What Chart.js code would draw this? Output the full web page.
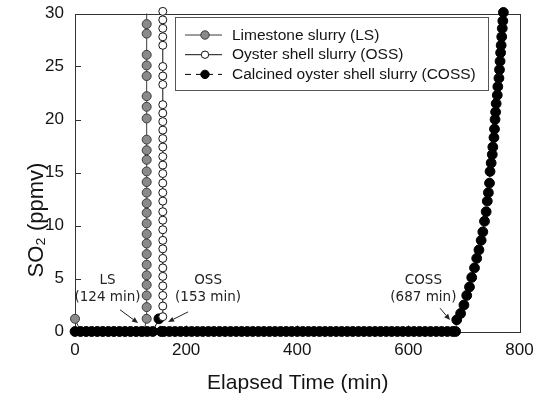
<!DOCTYPE html>
<html>
<head>
<meta charset="utf-8">
<script src="https://cdn.jsdelivr.net/npm/chart.js@4.4.1/dist/chart.umd.min.js"></script>
<style>
  html, body { margin: 0; padding: 0; background: #ffffff; }
  #wrap { width: 536px; height: 397px; }
</style>
</head>
<body>
<div id="wrap"><canvas id="c" width="536" height="397"></canvas></div>
<script>
// ---------------- data ----------------
const seriesNames = ['Limestone slurry (LS)', 'Oyster shell slurry (OSS)', 'Calcined oyster shell slurry (COSS)'];

// Limestone slurry (LS)
const lsTime = [0, 10, 20, 30, 40, 50, 60, 70, 80, 90, 100, 110, 120, 124,
  129, 129, 129, 129, 129, 129, 129, 129, 129, 129, 129, 129, 129,
  129, 129, 129, 129, 129, 129, 129, 129, 129, 129, 129, 129, 129];
const lsSO2 = [1.2, 0, 0, 0, 0, 0, 0, 0, 0, 0, 0, 0, 0, 0,
  1.2, 2.3, 3.4, 4.4, 5.3, 6.3, 7.3, 8.3, 9.2, 10.2, 11.2, 12.1, 13.1,
  14.1, 15.1, 16.2, 17.1, 18.1, 20.1, 21.2, 22.2, 24.1, 25.1, 26.1, 28.1, 29.0];

// Oyster shell slurry (OSS)
const ossTime = [158, 158, 158, 158, 158, 158, 158, 158, 158, 158, 158,
  158, 158, 158, 158, 158, 158, 158, 158, 158, 158, 158, 158, 158,
  158, 158, 158, 158, 158, 158, 158, 158];
const ossSO2 = [1.4, 2.4, 3.4, 4.3, 5.2, 6.0, 6.9, 7.8, 8.6, 9.6, 10.5,
  11.3, 12.3, 13.1, 14.0, 14.9, 15.7, 16.5, 17.4, 18.2, 19.0, 19.8, 20.6, 21.4,
  23.3, 24.1, 25.0, 27.0, 27.8, 28.6, 29.4, 30.2];

// Calcined oyster shell slurry (COSS)
const cossTime = [0, 10, 20, 30, 40, 50, 60, 70, 80, 90, 100, 110, 120, 130, 140, 151, 155,
  160, 170, 180, 190, 200, 210, 220, 230, 240, 250, 260, 270, 280, 290, 300,
  310, 320, 330, 340, 350, 360, 370, 380, 390, 400, 410, 420, 430, 440, 450,
  460, 470, 480, 490, 500, 510, 520, 530, 540, 550, 560, 570, 580, 590, 600,
  610, 620, 630, 640, 650, 660, 670, 680, 685,
  687, 694, 700, 705, 710, 714, 719, 723, 727, 731, 734, 737, 740, 742, 744,
  746, 747, 749, 751, 752, 754, 755, 756, 757, 758, 760, 761, 763, 764, 765,
  766, 767, 768, 769, 770, 771];
const cossSO2 = [0, 0, 0, 0, 0, 0, 0, 0, 0, 0, 0, 0, 0, 0, 0, 1.2, 0,
  0, 0, 0, 0, 0, 0, 0, 0, 0, 0, 0, 0, 0, 0, 0,
  0, 0, 0, 0, 0, 0, 0, 0, 0, 0, 0, 0, 0, 0, 0,
  0, 0, 0, 0, 0, 0, 0, 0, 0, 0, 0, 0, 0, 0, 0,
  0, 0, 0, 0, 0, 0, 0, 0, 0,
  1.1, 1.7, 2.5, 3.4, 4.2, 5.1, 6.0, 6.9, 7.7, 8.6, 9.4, 10.4, 11.3, 12.3, 13.1,
  14.0, 15.1, 15.9, 16.7, 17.4, 18.3, 19.1, 20.0, 20.7, 21.5, 22.3, 23.1, 23.9, 24.7, 25.5,
  26.3, 27.0, 27.8, 28.6, 29.3, 30.1];

// axis ticks
const xTickValues = [0, 200, 400, 600, 800];
const yTickValues = [0, 5, 10, 15, 20, 25, 30];

// breakthrough annotations: label lines
const annoLabels = [['LS', '(124 min)'], ['OSS', '(153 min)'], ['COSS', '(687 min)']];

const xTitle = 'Elapsed Time (min)';
const yTitle = 'SO\u2082 (ppmv)';

// ---------------- layout / style (not data) ----------------
// annotation placement in data units: text centre x, line-1 y, line-2 y, arrow tail (x,y), arrow tip (x,y)
const annoPlace = [
  { tx: 58.5, ty1: 4.8, ty2: 3.2, ax1: 81, ay1: 2.05, ax2: 113.5, ay2: 0.8 },
  { tx: 239.5, ty1: 4.8, ty2: 3.2, ax1: 203.5, ay1: 1.85, ax2: 167.5, ay2: 0.9 },
  { tx: 627, ty1: 4.8, ty2: 3.2, ax1: 657, ay1: 2.2, ax2: 675, ay2: 1.08 }
];

const toPts = (xs, ys) => xs.map((x, i) => ({ x: x, y: ys[i] }));

const styles = [
  { fill: '#8a8a8a', stroke: '#3a3a3a', line: '#3a3a3a', r: 4.5, dash: [] },
  { fill: '#ffffff', stroke: '#111111', line: '#111111', r: 4.0, dash: [] },
  { fill: '#000000', stroke: '#000000', line: '#000000', r: 4.9, dash: [6, 3] }
];

const datasets = [
  { label: seriesNames[0], data: toPts(lsTime, lsSO2), order: 3 },
  { label: seriesNames[1], data: toPts(ossTime, ossSO2), order: 1 },
  { label: seriesNames[2], data: toPts(cossTime, cossSO2), order: 2 }
].map((d, i) => Object.assign(d, {
  showLine: true,
  borderColor: styles[i].line,
  borderWidth: 1,
  borderDash: styles[i].dash,
  backgroundColor: styles[i].fill,
  pointBackgroundColor: styles[i].fill,
  pointBorderColor: styles[i].stroke,
  pointBorderWidth: 1,
  pointRadius: styles[i].r,
  pointHoverRadius: styles[i].r,
  tension: 0,
  clip: false
}));

// LS continues above the top of the frame: its line runs to the frame edge
datasets[0].data.push({ x: 129, y: 30 });
datasets[0].pointRadius = ctx => (ctx.raw && ctx.raw.y >= 30 ? 0 : styles[0].r);

const FONT = '"Liberation Sans", Arial, sans-serif';
const TXT = '#141414';

const drawPlugin = {
  id: 'drawPlugin',
  beforeDatasetsDraw(chart) {
    const { ctx, chartArea: a, scales } = chart;
    ctx.save();
    ctx.strokeStyle = '#333333';
    ctx.lineWidth = 1;
    ctx.strokeRect(Math.round(a.left) + 0.5, Math.round(a.top) + 0.5,
      Math.round(a.right - a.left), Math.round(a.bottom - a.top));
    ctx.beginPath();
    yTickValues.forEach(v => {
      const py = Math.round(scales.y.getPixelForValue(v)) + 0.5;
      ctx.moveTo(a.left, py); ctx.lineTo(a.left + 6, py);
    });
    xTickValues.forEach(v => {
      const px = Math.round(scales.x.getPixelForValue(v)) + 0.5;
      ctx.moveTo(px, a.bottom); ctx.lineTo(px, a.bottom - 6);
    });
    ctx.stroke();
    ctx.restore();
  },
  afterDatasetsDraw(chart) {
    const { ctx, chartArea: a, scales } = chart;
    const X = v => scales.x.getPixelForValue(v);
    const Y = v => scales.y.getPixelForValue(v);
    ctx.save();

    // breakthrough annotations
    ctx.font = '13.5px "DejaVu Sans", sans-serif';
    ctx.fillStyle = '#262626';
    ctx.textAlign = 'center';
    ctx.textBaseline = 'middle';
    annoLabels.forEach((lines, i) => {
      const p = annoPlace[i];
      ctx.fillText(lines[0], X(p.tx), Y(p.ty1));
      ctx.fillText(lines[1], X(p.tx), Y(p.ty2));
      const x1 = X(p.ax1), y1 = Y(p.ay1), x2 = X(p.ax2), y2 = Y(p.ay2);
      const ang = Math.atan2(y2 - y1, x2 - x1);
      const hl = 6, hw = 2.6;
      const bx = x2 - hl * Math.cos(ang), by = y2 - hl * Math.sin(ang);
      ctx.strokeStyle = '#222222';
      ctx.lineWidth = 1;
      ctx.beginPath(); ctx.moveTo(x1, y1); ctx.lineTo(bx, by); ctx.stroke();
      ctx.beginPath();
      ctx.moveTo(x2, y2);
      ctx.lineTo(bx + hw * Math.sin(ang), by - hw * Math.cos(ang));
      ctx.lineTo(bx - hw * Math.sin(ang), by + hw * Math.cos(ang));
      ctx.closePath();
      ctx.fillStyle = '#222222';
      ctx.fill();
    });

    // legend box
    const lx = a.left + 100, ly = a.top + 3, lw = 313, lh = 73;
    ctx.fillStyle = '#ffffff';
    ctx.fillRect(lx, ly, lw, lh);
    ctx.strokeStyle = '#555555';
    ctx.lineWidth = 1;
    ctx.strokeRect(Math.round(lx) + 0.5, Math.round(ly) + 0.5, lw, lh);
    ctx.font = '15.5px ' + FONT;
    ctx.textAlign = 'left';
    ctx.textBaseline = 'middle';
    chart.data.datasets.forEach((ds, i) => {
      const st = styles[i];
      const cy = ly + 18.5 + i * 19.7;
      ctx.strokeStyle = st.line;
      ctx.lineWidth = 1;
      ctx.setLineDash(st.dash.length ? [6, 5] : []);
      ctx.beginPath(); ctx.moveTo(lx + 10, cy); ctx.lineTo(lx + 47, cy); ctx.stroke();
      ctx.setLineDash([]);
      ctx.beginPath();
      ctx.arc(lx + 30, cy, Math.min(st.r, 4.5) - 0.3, 0, Math.PI * 2);
      ctx.fillStyle = st.fill; ctx.fill();
      ctx.strokeStyle = st.stroke; ctx.stroke();
      ctx.fillStyle = TXT;
      ctx.fillText(ds.label, lx + 57, cy + 0.5);
    });

    // axis titles
    ctx.fillStyle = TXT;
    ctx.font = '21px ' + FONT;
    ctx.textAlign = 'center';
    ctx.textBaseline = 'middle';
    ctx.fillText(xTitle, (a.left + a.right) / 2 + 0.5, 383);
    ctx.save();
    ctx.translate(37, 220);
    ctx.rotate(-Math.PI / 2);
    ctx.font = '22px ' + FONT;
    ctx.fillText(yTitle, 0, 0);
    ctx.restore();

    ctx.restore();
  }
};

new Chart(document.getElementById('c'), {
  type: 'line',
  data: { datasets: datasets },
  options: {
    responsive: false,
    animation: false,
    devicePixelRatio: 1,
    events: [],
    layout: { autoPadding: false, padding: { left: 0, right: 16.5, top: 13.5, bottom: 0 } },
    plugins: { legend: { display: false }, tooltip: { enabled: false } },
    scales: {
      x: {
        type: 'linear',
        min: 0, max: 800,
        afterBuildTicks: s => { s.ticks = xTickValues.map(v => ({ value: v })); },
        afterFit: s => { s.height = 65.5; s.paddingLeft = 0; s.paddingRight = 0; },
        grid: { display: false, drawTicks: false },
        border: { display: false },
        ticks: { padding: 9, color: TXT, font: { family: FONT, size: 17 }, maxRotation: 0 }
      },
      y: {
        type: 'linear',
        min: 0, max: 30,
        afterBuildTicks: s => { s.ticks = yTickValues.map(v => ({ value: v })); },
        afterFit: s => { s.width = 75; s.paddingTop = 0; s.paddingBottom = 0; },
        grid: { display: false, drawTicks: false },
        border: { display: false },
        ticks: { padding: 11, color: TXT, font: { family: FONT, size: 17 } }
      }
    }
  },
  plugins: [drawPlugin]
});
</script>
</body>
</html>
